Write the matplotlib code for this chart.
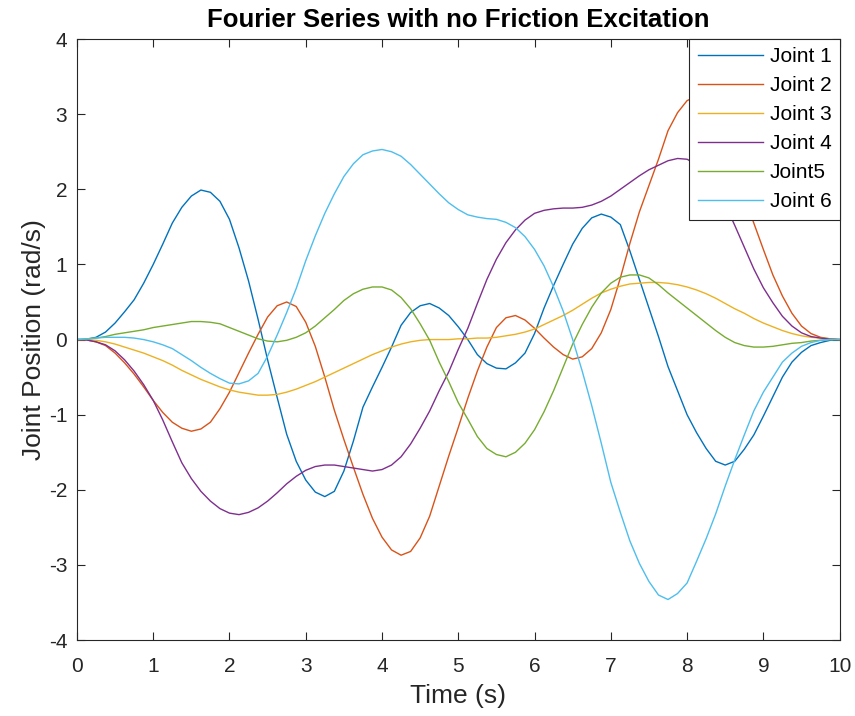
import matplotlib
matplotlib.use("Agg")
import matplotlib.pyplot as plt
import numpy as np

plt.rcParams['font.family'] = ['Liberation Sans', 'DejaVu Sans']
plt.rcParams['axes.unicode_minus'] = False

# time axis (s), one sample every 0.125 s
t = np.arange(0, 10.0001, 0.125)

# joint positions (8 values per second, then t=10)
joint1 = [0, 0.005, 0.03, 0.1, 0.22, 0.37, 0.53, 0.75,
          1.0, 1.27, 1.55, 1.76, 1.91, 1.99, 1.96, 1.84,
          1.6, 1.22, 0.78, 0.27, -0.27, -0.77, -1.26, -1.62,
          -1.87, -2.03, -2.09, -2.02, -1.75, -1.35, -0.9, -0.63,
          -0.37, -0.1, 0.19, 0.36, 0.45, 0.48, 0.42, 0.32,
          0.17, 0.0, -0.2, -0.32, -0.38, -0.39, -0.31, -0.18,
          0.08, 0.42, 0.72, 1.0, 1.27, 1.48, 1.62, 1.67,
          1.63, 1.53, 1.18, 0.8, 0.42, 0.04, -0.36, -0.68,
          -1.0, -1.24, -1.45, -1.62, -1.67, -1.62, -1.46, -1.27,
          -1.02, -0.76, -0.5, -0.3, -0.17, -0.08, -0.04, -0.01,
          0]
joint2 = [0, -0.005, -0.03, -0.08, -0.18, -0.31, -0.46, -0.63,
          -0.81, -0.97, -1.1, -1.18, -1.22, -1.19, -1.1, -0.92,
          -0.7, -0.44, -0.18, 0.07, 0.3, 0.45, 0.5, 0.44,
          0.23, -0.09, -0.5, -0.94, -1.33, -1.7, -2.06, -2.38,
          -2.63, -2.8, -2.87, -2.82, -2.64, -2.35, -1.95, -1.55,
          -1.17, -0.78, -0.42, -0.1, 0.16, 0.29, 0.32, 0.26,
          0.15, 0.02, -0.1, -0.2, -0.26, -0.23, -0.12, 0.09,
          0.4, 0.82, 1.28, 1.7, 2.05, 2.4, 2.78, 3.02,
          3.18, 3.24, 3.18, 2.95, 2.62, 2.25, 1.9, 1.55,
          1.2, 0.86, 0.58, 0.35, 0.18, 0.08, 0.03, 0.01,
          0]
joint3 = [0, 0.0, -0.01, -0.03, -0.06, -0.1, -0.14, -0.18,
          -0.23, -0.28, -0.34, -0.41, -0.47, -0.53, -0.58, -0.63,
          -0.67, -0.7, -0.72, -0.74, -0.74, -0.73, -0.7, -0.66,
          -0.61, -0.56, -0.5, -0.44, -0.38, -0.32, -0.26, -0.2,
          -0.15, -0.1, -0.06, -0.03, -0.01, 0.0, 0.0, 0.0,
          0.01, 0.01, 0.02, 0.02, 0.03, 0.05, 0.07, 0.1,
          0.14, 0.2, 0.26, 0.32, 0.39, 0.47, 0.55, 0.62,
          0.67, 0.71, 0.74, 0.75, 0.76, 0.76, 0.75, 0.73,
          0.7, 0.66, 0.61, 0.55, 0.48, 0.41, 0.35, 0.28,
          0.22, 0.17, 0.12, 0.08, 0.05, 0.03, 0.02, 0.01,
          0]
joint4 = [0, -0.005, -0.03, -0.07, -0.15, -0.27, -0.42, -0.6,
          -0.81, -1.07, -1.36, -1.64, -1.85, -2.02, -2.15, -2.25,
          -2.31, -2.33, -2.3, -2.24, -2.15, -2.04, -1.92, -1.82,
          -1.74, -1.69, -1.67, -1.67, -1.69, -1.71, -1.73, -1.75,
          -1.73, -1.67, -1.56, -1.39, -1.18, -0.95, -0.68, -0.43,
          -0.13, 0.15, 0.48, 0.8, 1.07, 1.29, 1.46, 1.59,
          1.68, 1.72, 1.74, 1.75, 1.75, 1.76, 1.79, 1.84,
          1.91, 2.0, 2.09, 2.18, 2.26, 2.32, 2.38, 2.41,
          2.4, 2.33, 2.2, 2.03, 1.8, 1.52, 1.23, 0.94,
          0.69, 0.49, 0.31, 0.18, 0.09, 0.04, 0.02, 0.005,
          0]
joint5 = [0, 0.005, 0.02, 0.04, 0.07, 0.09, 0.11, 0.13,
          0.16, 0.18, 0.2, 0.22, 0.24, 0.24, 0.23, 0.21,
          0.16, 0.11, 0.06, 0.01, -0.02, -0.03, -0.01, 0.03,
          0.09, 0.18, 0.29, 0.4, 0.52, 0.61, 0.67, 0.7,
          0.7, 0.66, 0.56, 0.41, 0.21, -0.01, -0.3, -0.56,
          -0.84, -1.06, -1.29, -1.45, -1.53, -1.56, -1.5, -1.38,
          -1.2, -0.96, -0.68, -0.37, -0.06, 0.2, 0.43, 0.62,
          0.75, 0.83, 0.86, 0.86, 0.82, 0.73, 0.62, 0.52,
          0.42, 0.32, 0.22, 0.12, 0.03, -0.04, -0.08, -0.1,
          -0.1, -0.09, -0.07, -0.05, -0.04, -0.02, -0.01, 0.0,
          0]
joint6 = [0, 0.01, 0.02, 0.03, 0.03, 0.03, 0.02, 0.0,
          -0.03, -0.07, -0.12, -0.2, -0.28, -0.37, -0.45, -0.52,
          -0.58, -0.59, -0.55, -0.45, -0.22, 0.06, 0.36, 0.68,
          1.05, 1.38, 1.68, 1.94, 2.17, 2.34, 2.46, 2.51,
          2.53, 2.5, 2.44, 2.33, 2.2, 2.07, 1.94, 1.82,
          1.73, 1.66, 1.63, 1.61, 1.6, 1.56, 1.49, 1.37,
          1.2, 0.98, 0.7, 0.38, 0.0, -0.42, -0.88, -1.38,
          -1.9, -2.3, -2.68, -2.98, -3.22, -3.4, -3.46, -3.38,
          -3.24, -2.95, -2.65, -2.32, -1.95, -1.6, -1.27, -0.95,
          -0.7, -0.5, -0.3, -0.18, -0.09, -0.04, -0.01, 0.0,
          0]

series = [joint1, joint2, joint3, joint4, joint5, joint6]
labels = ['Joint 1', 'Joint 2', 'Joint 3', 'Joint 4', 'Joint5', 'Joint 6']
colors = ['#0072BD', '#D95319', '#EDB120', '#7E2F8E', '#77AC30', '#4DBEEE']

fig = plt.figure(figsize=(8.55, 7.16), dpi=100)
ax = fig.add_axes([0.090, 0.106, 0.892, 0.8395])

for y, lab, c in zip(series, labels, colors):
    ax.plot(t, y, color=c, linewidth=1.0, label=lab)

ax.set_xlim(0, 10)
ax.set_ylim(-4, 4)
ax.set_xticks(range(0, 11))
ax.set_yticks(range(-4, 5))

ax.tick_params(direction='in', length=6, width=0.8, colors='#262626',
               labelsize=15, top=True, right=True, pad=7)
ax.tick_params(axis='x', pad=12)
for s in ax.spines.values():
    s.set_color('#262626')
    s.set_linewidth(0.8)

ax.set_xlabel('Time (s)', fontsize=19, color='#262626', labelpad=6)
ax.set_ylabel('Joint Position (rad/s)', fontsize=19, color='#262626', labelpad=2)
ax.set_title('Fourier Series with no Friction Excitation', fontsize=18.5,
             fontweight='bold', pad=9)

leg = ax.legend(loc='upper right', fontsize=15, borderaxespad=0, fancybox=False,
                framealpha=1, handlelength=3.15, handletextpad=0.3,
                labelspacing=0.48, borderpad=0.4)
leg.get_frame().set_edgecolor('#262626')
leg.get_frame().set_linewidth(0.8)

fig.savefig('out.png', dpi=100)
